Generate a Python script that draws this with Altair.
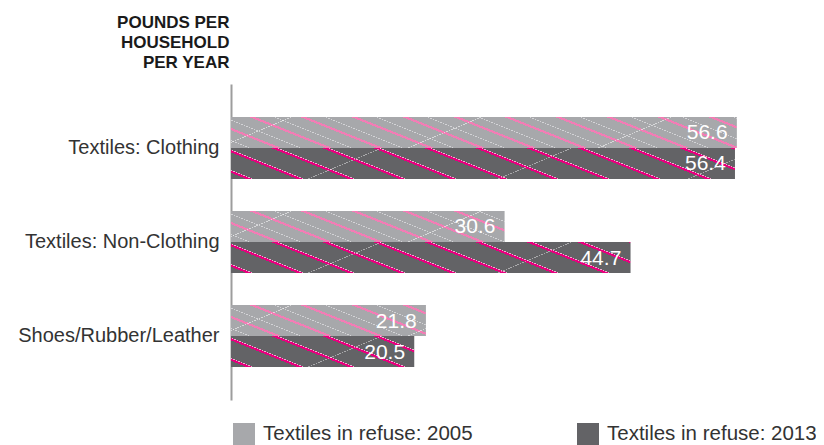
import math
import altair as alt
import pandas as pd

# ---- data -------------------------------------------------------------
categories = ["Textiles: Clothing", "Textiles: Non-Clothing", "Shoes/Rubber/Leather"]
series = ["Textiles in refuse: 2005", "Textiles in refuse: 2013"]
values_2005 = [56.6, 30.6, 21.8]
values_2013 = [56.4, 44.7, 20.5]
title_lines = ["POUNDS PER", "HOUSEHOLD", "PER YEAR"]

rows = []
for c, a, b in zip(categories, values_2005, values_2013):
    rows.append({"category": c, "series": series[0], "value": a})
    rows.append({"category": c, "series": series[1], "value": b})
df = pd.DataFrame(rows)

# ---- layout / style ---------------------------------------------------
FONT = "Liberation Sans"
W_PLOT, H_PLOT = 536, 316
X_MAX = 60
PAD_INNER, PAD_OUTER = 0.34, 0.35
base_colors = ["#a7a8ab", "#636366"]
CLEAR = "rgba(255,255,255,0)"

px_per_unit = W_PLOT / X_MAX
step = H_PLOT / (len(categories) - PAD_INNER + 2 * PAD_OUTER)
BAR_H = step * (1 - PAD_INNER) / 2

# main diagonal stripes (down-right) : (start, end, colour) within one period
stripe_sets = [
    [(0.0, 6.0, "#f27db5"), (24.5, 26.0, "#d3d3d6")],
    [(0.0, 5.5, "#e6007e"), (5.5, 7.0, "#f3a9cf")],
]
phases = [18.0, 40.0]
MAIN = dict(slope=0.40, period=51.0, sign=1)
# sparse crossing hairlines (up-right)
cross_sets = [
    [(0.0, 1.6, "rgba(255,255,255,0.55)")],
    [(0.0, 1.6, "rgba(255,255,255,0.45)")],
]
cross_phases = [60.0, 150.0]
CROSS = dict(slope=0.42, period=190.0, sign=-1)


def stripe_fill(value, base, stripes, phase, slope, period, sign):
    W = value * px_per_unit
    H = BAR_H
    L = W + H / slope
    A = W / L
    if sign > 0:   # lines running down to the right, start at bottom-left
        B = -H / (slope * L)
        x1, y1 = 0.0, 1.0
        lo, hi = -H / slope, W
        off = H / slope
    else:          # lines running up to the right, start at top-left
        B = H / (slope * L)
        x1, y1 = 0.0, 0.0
        lo, hi = 0.0, W + H / slope
        off = 0.0
    n2 = A * A + B * B
    vx, vy = A / n2, B / n2

    def t(x0):
        return (x0 + off) / L

    k0 = math.floor((lo - phase) / period) - 1
    k1 = math.ceil((hi - phase) / period) + 1
    segs = []
    for k in range(k0, k1 + 1):
        o = phase + k * period
        for a, b, col in stripes:
            segs.append((o + a, o + b, col))
    segs.sort()
    stops = [(0.0, base)]
    for a, b, col in segs:
        ta, tb = max(0.0, t(a)), min(1.0, t(b))
        if tb <= 0 or ta >= 1 or tb <= ta:
            continue
        stops += [(ta, base), (ta, col), (tb, col), (tb, base)]
    stops.append((1.0, base))
    return alt.LinearGradient(
        gradient="linear",
        x1=x1, y1=y1, x2=x1 + vx, y2=y1 + vy,
        stops=[alt.GradientStop(offset=round(o, 5), color=c) for o, c in stops],
    )


y_enc = alt.Y(
    "category:N",
    scale=alt.Scale(domain=categories, paddingInner=PAD_INNER, paddingOuter=PAD_OUTER),
    axis=alt.Axis(
        title=title_lines,
        titleAngle=0,
        titleAlign="right",
        titleBaseline="top",
        titleX=-2,
        titleY=-70,
        titleFontSize=17,
        titleFontWeight="bold",
        titleFont=FONT,
        titleColor="#1a1a1a",
        titleLineHeight=20,
        labelFont=FONT,
        labelFontSize=20,
        labelColor="#333333",
        labelPadding=12,
        labelLimit=400,
        ticks=False,
        grid=False,
        domainColor="#9d9d9d",
        domainWidth=2,
    ),
)
yoff_enc = alt.YOffset("series:N", scale=alt.Scale(domain=series, paddingInner=0, paddingOuter=0))
x_enc = alt.X("value:Q", scale=alt.Scale(domain=[0, X_MAX], nice=False), axis=None)

base = alt.Chart(df).mark_bar().encode(
    y=y_enc,
    yOffset=yoff_enc,
    x=x_enc,
    color=alt.Color(
        "series:N",
        scale=alt.Scale(domain=series, range=base_colors),
        legend=alt.Legend(
            title=None,
            orient="none",
            legendX=2,
            legendY=339,
            direction="horizontal",
            symbolType="square",
            symbolSize=484,
            symbolStrokeWidth=0,
            symbolOpacity=1,
            labelFont=FONT,
            labelFontSize=20.5,
            labelColor="#333333",
            labelOffset=8,
            columnPadding=104,
            labelLimit=400,
        ),
    ),
)

layers = [base]
for si, (ser, vals) in enumerate(zip(series, [values_2005, values_2013])):
    for cat, v in zip(categories, vals):
        fills = [
            stripe_fill(v, base_colors[si], stripe_sets[si], phases[si], **MAIN),
            stripe_fill(v, CLEAR, cross_sets[si], cross_phases[si], **CROSS),
        ]
        for grad in fills:
            layers.append(
                alt.Chart(df)
                .transform_filter(alt.FieldEqualPredicate(field="category", equal=cat))
                .transform_filter(alt.FieldEqualPredicate(field="series", equal=ser))
                .mark_bar(fill=grad)
                .encode(y=y_enc, yOffset=yoff_enc, x=x_enc)
            )

labels = alt.Chart(df).mark_text(
    align="right", baseline="middle", dx=-9, dy=1, fontSize=21, color="white", font=FONT
).encode(y=y_enc, yOffset=yoff_enc, x=x_enc, text=alt.Text("value:Q", format=".1f"))
layers.append(labels)

chart = (
    alt.layer(*layers)
    .properties(
        width=W_PLOT,
        height=H_PLOT,
        background="white",
        autosize=alt.AutoSizeParams(type="none"),
        padding={"left": 223, "top": 76, "right": 49, "bottom": 45},
    )
    .configure_view(stroke="transparent", strokeWidth=0)
)

chart.save("out.html", embed_options={"renderer": "svg", "actions": False})
